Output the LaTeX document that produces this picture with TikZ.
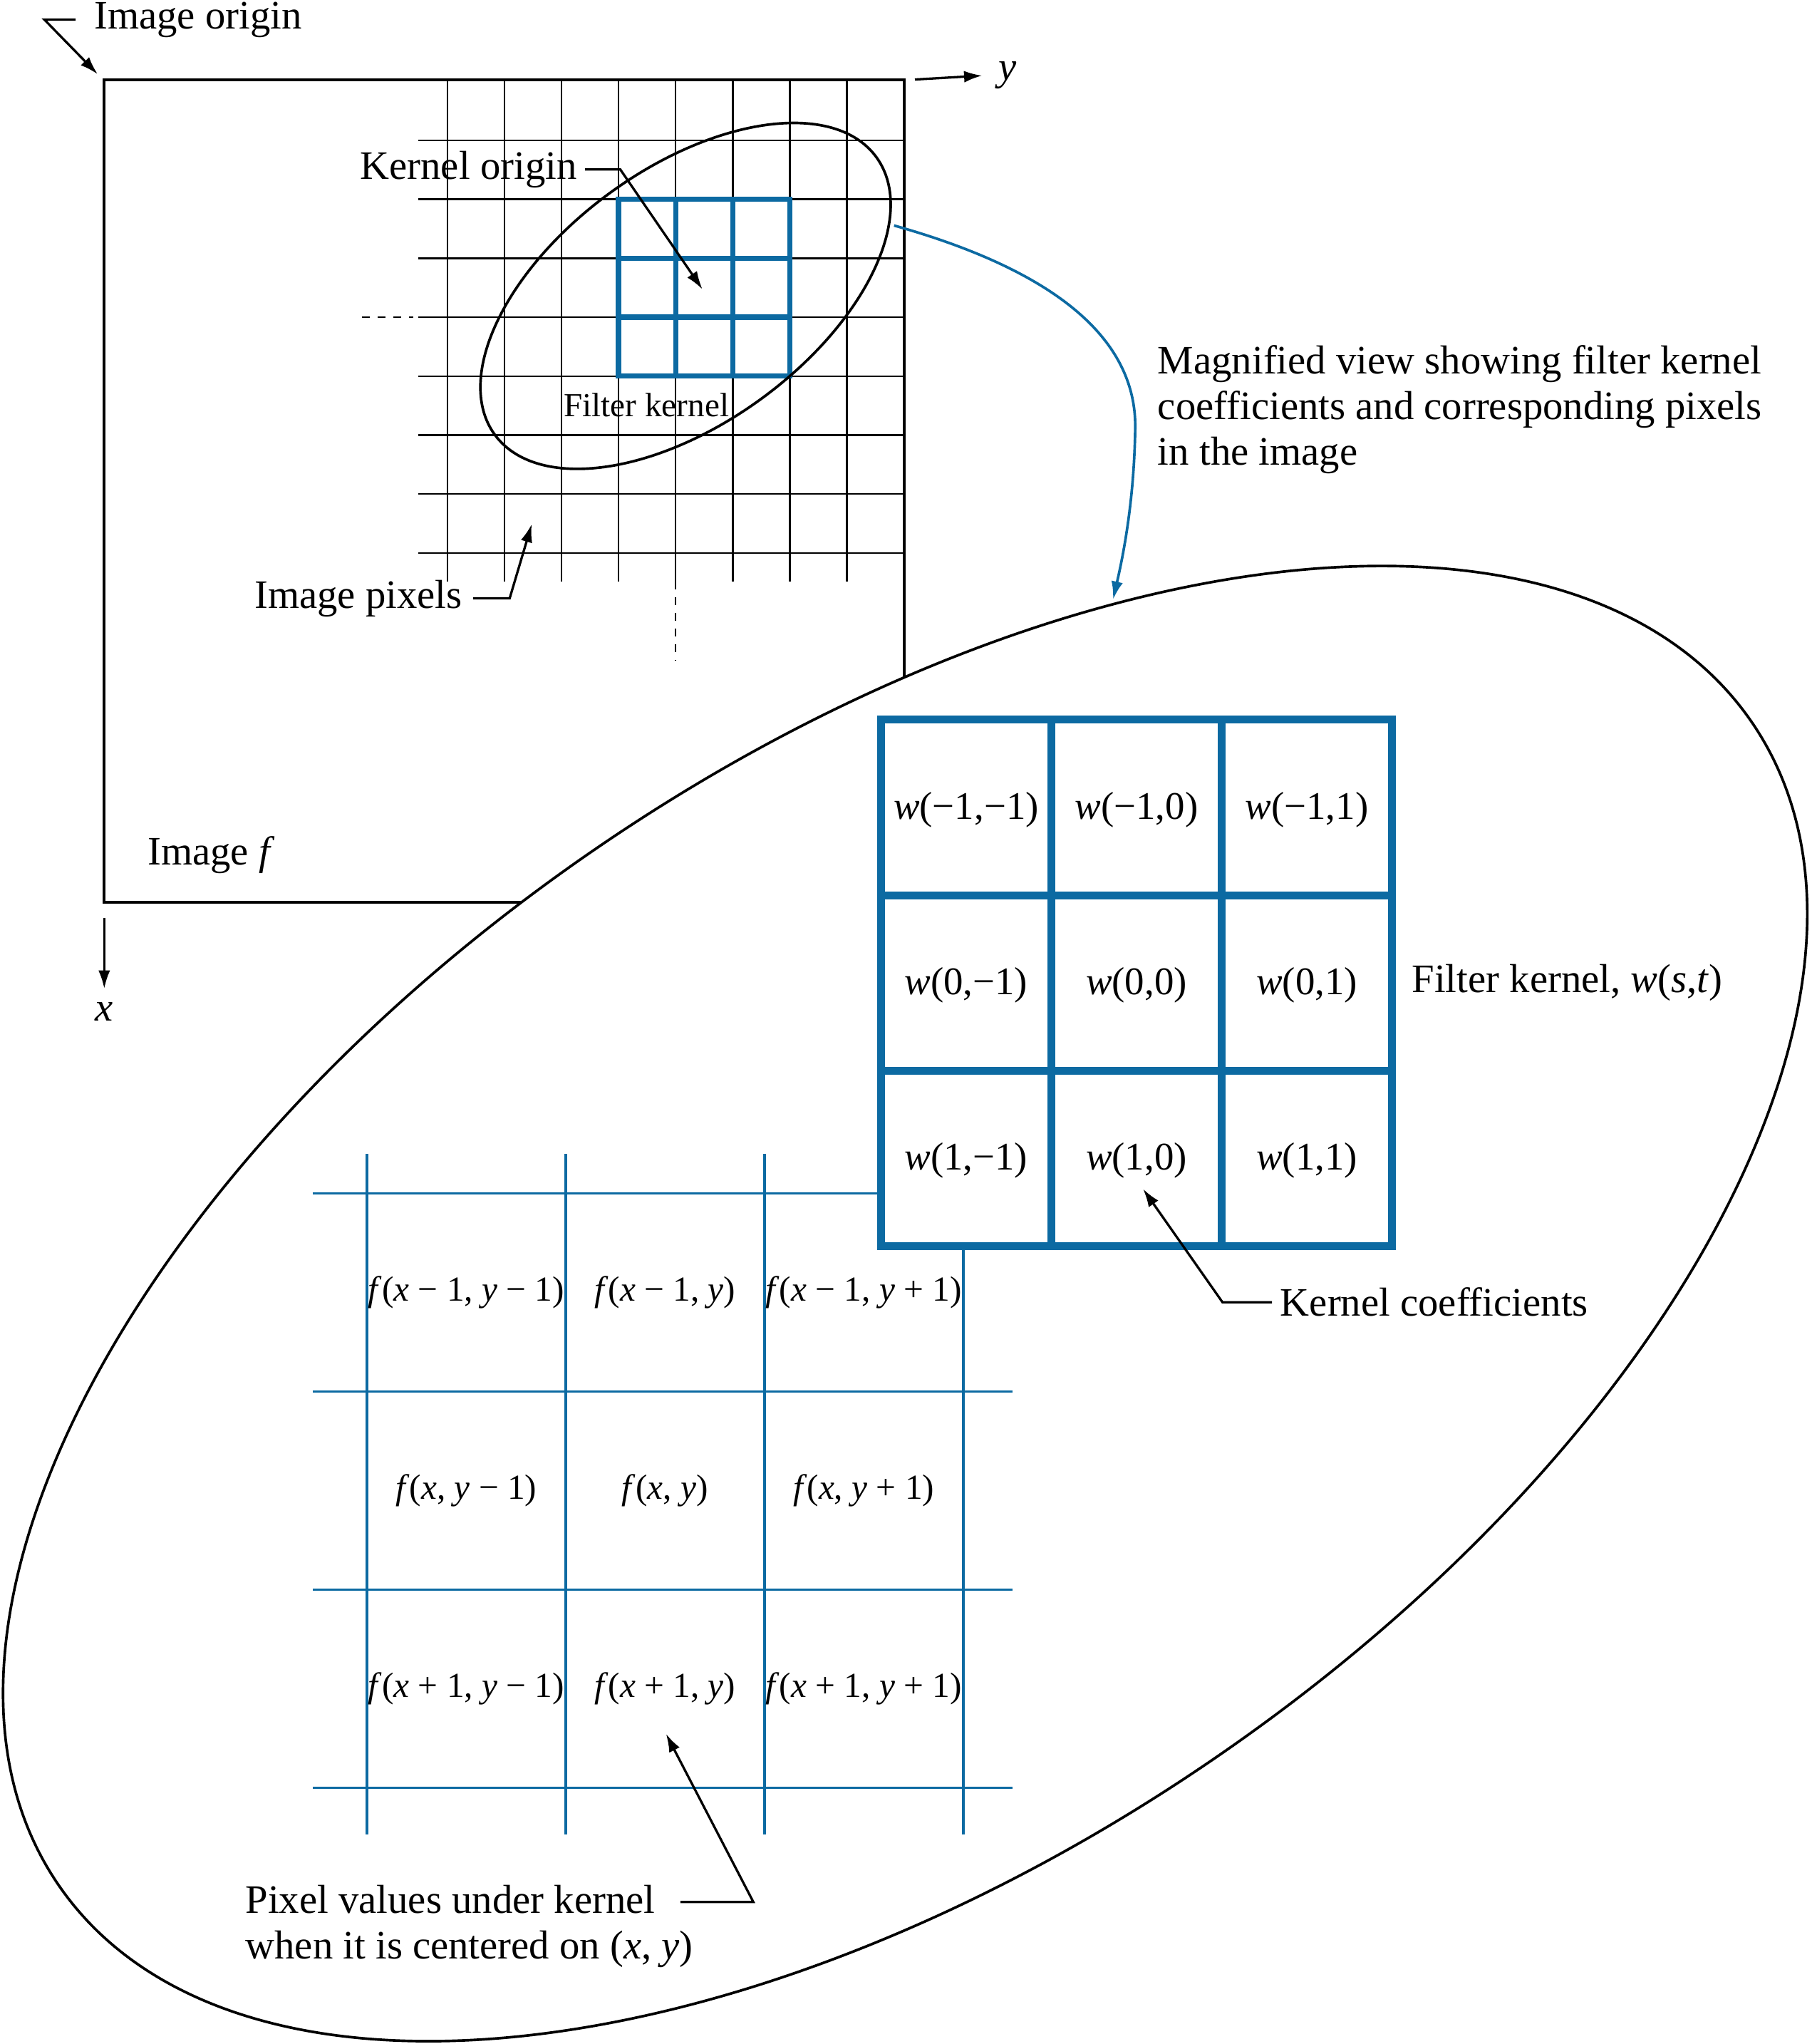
\documentclass[tikz,border=0pt]{standalone}
\usepackage{fontspec}
\setmainfont{Liberation Serif}
\usetikzlibrary{arrows.meta}
\definecolor{kblue}{RGB}{12,106,162}
\tikzset{
  lbl/.style={font=\fontsize{15.5}{17.5}\selectfont, inner sep=0pt},
  cell/.style={font=\fontsize{13.5}{15}\selectfont, inner sep=0pt},
  wcell/.style={font=\fontsize{15}{17}\selectfont, inner sep=0pt},
}

\begin{document}
\begin{tikzpicture}[x=0.5pt,y=-0.5pt,>={Latex[length=7pt,width=4.5pt]}]
\useasboundingbox (0,0) rectangle (1394,1568);

% image f with its pixel grid
\draw [line width=1.1pt] (80,61) rectangle (694,692);
\foreach \i in {0,...,7}
  \draw [line width=0.65pt] ({343.2+43.8*\i},61) -- ({343.2+43.8*\i},446);
\foreach \j in {0,...,7}
  \draw [line width=0.65pt] (321,{107.7+45.2*\j}) -- (694,{107.7+45.2*\j});
\draw [dashed, line width=0.65pt] (278,243.3) -- (317,243.3);
\draw [dashed, line width=0.65pt] (518.4,446) -- (518.4,507);

\draw [kblue, line width=2pt] (474.6,152.9) rectangle (606,288.5);
\foreach \i in {1,2} {
  \draw [kblue, line width=2pt] ({474.6+43.8*\i},152.9) -- ({474.6+43.8*\i},288.5);
  \draw [kblue, line width=2pt] (474.6,{152.9+45.2*\i}) -- (606,{152.9+45.2*\i});
}
\draw [line width=1pt, rotate around={36:(526,227)}] (526,227) ellipse [x radius=181, y radius=98];

% axes
\coordinate (yaxis) at (702,61);
\node [lbl] (ylab) at (773,58) {\textit{y}};
\draw [->, line width=0.9pt] (yaxis) -- ([xshift=-6pt]ylab.west);
\coordinate (xaxis) at (80,704);
\node [lbl] (xlab) at (80,776) {\textit{x}};
\draw [->, line width=0.9pt] (xaxis) -- ([yshift=5pt]xlab.north);

% labels of the image
\node [lbl, anchor=west] (origin) at (72,15) {Image origin};
\coordinate (origintip) at (75,57);
\draw [->, line width=0.9pt] ([xshift=-7pt]origin.west) -- ++(-24,0) -- (origintip);

\node [lbl, anchor=west] (korigin) at (276,130) {Kernel origin};
\coordinate (kotip) at (539,222);
\draw [->, line width=0.9pt] ([xshift=3pt]korigin.east) -- ++(27,0) -- (kotip);

\node [font=\fontsize{12.9}{15}\selectfont, inner sep=0pt] (fksmall) at (496,311) {Filter kernel};

\node [lbl, anchor=west] (pixels) at (195,459) {Image pixels};
\coordinate (pixtip) at (408,402);
\draw [->, line width=0.9pt] ([xshift=4pt]pixels.east) -- ++(28,0) -- (pixtip);

\node [lbl, anchor=west] (imgf) at (113,656) {Image \textit{f}};

% magnified view
\filldraw [fill=white, line width=1pt, rotate around={34.5:(694.5,1000)}] (694.5,1000) ellipse [x radius=788, y radius=422];

\coordinate (smallend) at (686,173);
\coordinate (bigtop) at (854,460);
\draw [kblue, line width=1pt, ->] (smallend) .. controls (800,205) and (873,255) .. (871,330) .. controls (870,385) and (862,425) .. (bigtop);

\node [lbl, anchor=west, align=left] (magn) at (888,314) {Magnified view showing filter kernel\\coefficients and corresponding pixels\\in the image};

\foreach \i in {0,...,3} {
  \draw [kblue, line width=1pt] ({281.5+152.5*\i},885) -- ({281.5+152.5*\i},1407);
  \draw [kblue, line width=1pt] (240,{915.4+152*\i}) -- (777,{915.4+152*\i});
}
\foreach \r/\c/\txt in {
  0/0/{\textit{f}(\textit{x} − 1, \textit{y} − 1)}, 0/1/{\textit{f}(\textit{x} − 1, \textit{y})}, 0/2/{\textit{f}(\textit{x} − 1, \textit{y} + 1)},
  1/0/{\textit{f}(\textit{x}, \textit{y} − 1)}, 1/1/{\textit{f}(\textit{x}, \textit{y})}, 1/2/{\textit{f}(\textit{x}, \textit{y} + 1)},
  2/0/{\textit{f}(\textit{x} + 1, \textit{y} − 1)}, 2/1/{\textit{f}(\textit{x} + 1, \textit{y})}, 2/2/{\textit{f}(\textit{x} + 1, \textit{y} + 1)}}
  \node [cell] (f\r\c) at ({357.75+152.5*\c},{991.4+152*\r}) {\txt};

\filldraw [kblue, fill=white, line width=3pt] (676,552) rectangle (1068,956);
\foreach \i in {1,2} {
  \draw [kblue, line width=3pt] ({676+130.7*\i},552) -- ({676+130.7*\i},956);
  \draw [kblue, line width=3pt] (676,{552+134.7*\i}) -- (1068,{552+134.7*\i});
}
\foreach \r/\c/\txt in {
  0/0/{\textit{w}(−1,−1)}, 0/1/{\textit{w}(−1,0)}, 0/2/{\textit{w}(−1,1)},
  1/0/{\textit{w}(0,−1)}, 1/1/{\textit{w}(0,0)}, 1/2/{\textit{w}(0,1)},
  2/0/{\textit{w}(1,−1)}, 2/1/{\textit{w}(1,0)}, 2/2/{\textit{w}(1,1)}}
  \node [wcell] (w\r\c) at ({741.3+130.7*\c},{621+134.7*\r}) {\txt};

\node [lbl, anchor=west] (fkbig) at (1083,754) {Filter kernel, \textit{w}(\textit{s},\textit{t})};

\node [lbl, anchor=west] (kcoef) at (982,999) {Kernel coefficients};
\coordinate (kctip) at (877,912);
\draw [->, line width=0.9pt] ([xshift=-3pt]kcoef.west) -- ++(-38,0) -- (kctip);

\node [lbl, anchor=west, align=left] (pvals) at (188,1478) {Pixel values under kernel\\when it is centered on (\textit{x}, \textit{y})};
\coordinate (pvstart) at (522,1459);
\coordinate (pvtip) at (511,1330);
\draw [->, line width=0.9pt] (pvstart) -- ++(56,0) -- (pvtip);
\end{tikzpicture}
\end{document}
